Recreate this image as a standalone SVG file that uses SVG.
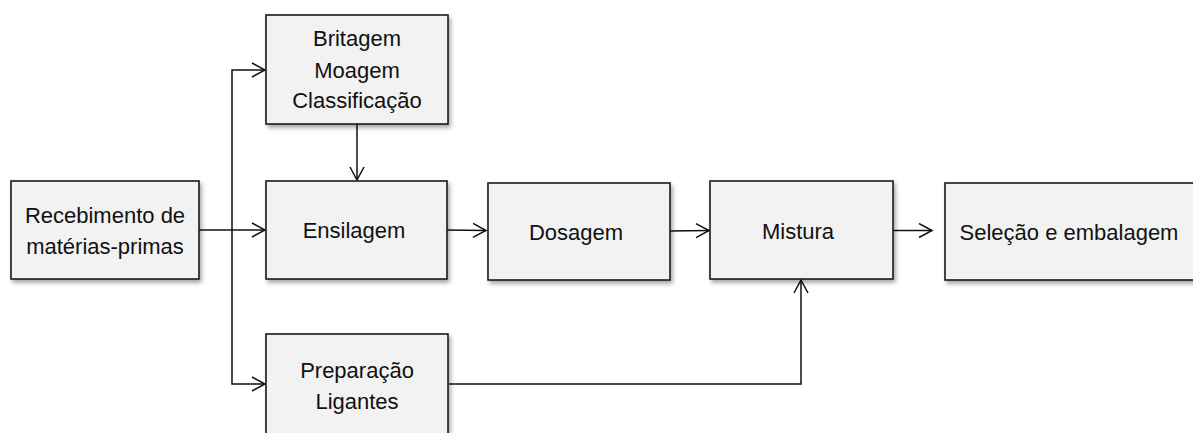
<svg xmlns="http://www.w3.org/2000/svg" width="1193" height="433" viewBox="0 0 1193 433">
<style>
.box{fill:#f2f2f2;stroke:#1a1a1a;stroke-width:1.6;filter:url(#sh)}
.t{font-family:"Liberation Sans",Arial,sans-serif;font-size:22px;fill:#111;text-anchor:middle}
.c{fill:none;stroke:#111;stroke-width:1.5}
</style>
<defs>
<filter id="sh" x="-10%" y="-10%" width="125%" height="130%">
<feDropShadow dx="2" dy="3" stdDeviation="2" flood-color="#000" flood-opacity="0.35"/>
</filter>
<marker id="a" markerUnits="userSpaceOnUse" markerWidth="16" markerHeight="18" refX="14" refY="8" orient="auto">
<path d="M1,1 L14,8 L1,15" fill="none" stroke="#111" stroke-width="1.5"/>
</marker>
</defs>
<rect width="1193" height="433" fill="#fff"/>
<g id="connectors">
<line class="c" x1="199" y1="230" x2="232" y2="230" stroke-width="2.6"/>
<line class="c" x1="232" y1="230" x2="265" y2="230" marker-end="url(#a)"/>
<polyline class="c" points="232,230 232,70 265,70" marker-end="url(#a)"/>
<polyline class="c" points="232,230 232,384 265,384" marker-end="url(#a)"/>
<line class="c" x1="357" y1="124" x2="357" y2="180" marker-end="url(#a)"/>
<line class="c" x1="447" y1="230" x2="486" y2="230.5" marker-end="url(#a)"/>
<line class="c" x1="670" y1="231" x2="709" y2="230.5" marker-end="url(#a)"/>
<line class="c" x1="893" y1="230.5" x2="932" y2="230.5" marker-end="url(#a)"/>
<polyline class="c" points="449,384 801,384 801,280" marker-end="url(#a)"/>
</g>
<g id="recebimento">
<rect class="box" x="11" y="181" width="188" height="98"/>
<text class="t" x="105" y="223">Recebimento de</text>
<text class="t" x="105" y="254">matérias-primas</text>
</g>
<g id="britagem">
<rect class="box" x="266" y="15" width="182" height="109"/>
<text class="t" x="357" y="46">Britagem</text>
<text class="t" x="357" y="78">Moagem</text>
<text class="t" x="357" y="108">Classificação</text>
</g>
<g id="ensilagem">
<rect class="box" x="266" y="181" width="181" height="98"/>
<text class="t" x="354" y="238">Ensilagem</text>
</g>
<g id="dosagem">
<rect class="box" x="488" y="183" width="182" height="97"/>
<text class="t" x="576" y="240">Dosagem</text>
</g>
<g id="mistura">
<rect class="box" x="710" y="181" width="183" height="98"/>
<text class="t" x="798" y="239">Mistura</text>
</g>
<g id="selecao">
<rect class="box" x="945" y="183" width="252" height="97"/>
<text class="t" x="1069" y="240">Seleção e embalagem</text>
</g>
<g id="preparacao">
<rect class="box" x="266" y="334" width="182" height="110"/>
<text class="t" x="357" y="378">Preparação</text>
<text class="t" x="357" y="409">Ligantes</text>
</g>
</svg>
